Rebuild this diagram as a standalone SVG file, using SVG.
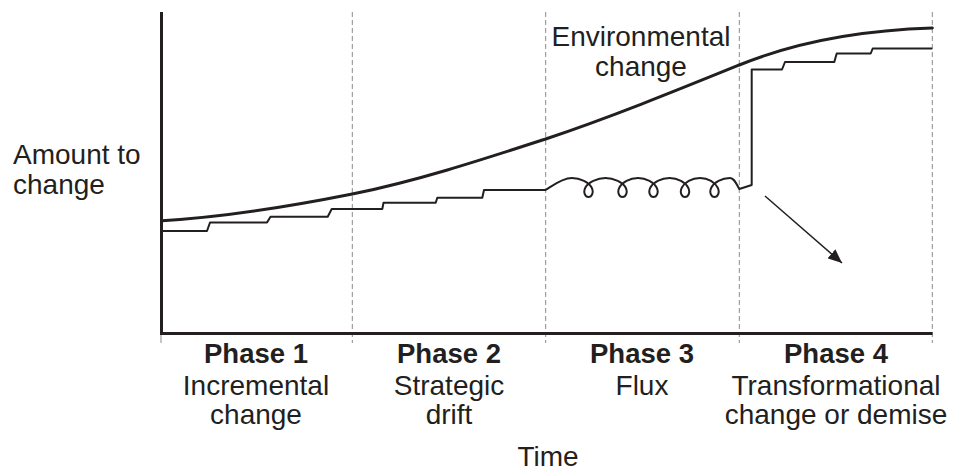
<svg xmlns="http://www.w3.org/2000/svg" width="960" height="473" viewBox="0 0 960 473">
<style>
.txt{font-family:"Liberation Sans",Arial,sans-serif;font-size:28px;fill:#231f20}
.bold{font-weight:bold;font-size:27.5px}
.axis{stroke:#231f20;stroke-width:3;fill:none}
.grid{stroke:#8a8a8a;stroke-width:1;stroke-dasharray:5 3;fill:none}
.env{stroke:#231f20;stroke-width:3;fill:none;stroke-linecap:round}
.org{stroke:#231f20;stroke-width:2;fill:none;stroke-linejoin:round}
.arr{stroke:#231f20;stroke-width:1.5;fill:none}
</style>
<defs>
<marker id="ah" markerUnits="userSpaceOnUse" markerWidth="16" markerHeight="12" refX="14" refY="6" orient="auto">
<path d="M0,0 L14,6 L0,12 Z" fill="#231f20"/>
</marker>
</defs>
<rect width="960" height="473" fill="#ffffff"/>
<g id="axes">
<line class="grid" x1="352.3" y1="12" x2="352.3" y2="343"/>
<line class="grid" x1="545.7" y1="12" x2="545.7" y2="343"/>
<line class="grid" x1="739.3" y1="12" x2="739.3" y2="343"/>
<line class="grid" x1="932.3" y1="12" x2="932.3" y2="343"/>
<line x1="161" y1="333" x2="161" y2="343" stroke="#8a8a8a" stroke-width="1"/>
<path class="axis" d="M161.5,12 L161.5,333.5 L932.5,333.5"/>
</g>
<g id="connectors">
<path id="environmental-curve" class="env" d="M162,220.7 C224,217.2 288,206.8 352.3,194 C416,181.2 481,160 545.7,139 C610,117.5 674,91.5 739.3,65 C803,39 868,30 932.3,28"/>
<path id="organisation-line" class="org" d="M162,231 L207,231 L210,222.5 L267,222.5 L270.5,216.7 L327.7,216.7 L331.7,209 L382.3,209 L383.5,202.7 L435.7,202.7 L437.3,197.7 L482.3,197.7 L484,190 L545.5,190 C552,186 562,178 572,178 C580.4,178 589,182.5 591.6,187.5 C594.25,192.5 591.64,197 588.5,197 C585.36,197 582.75,192.5 585.4,187.5 C588,182.5 597.1,178 605.5,178 C613.9,178 623,182.5 625.6,187.5 C628.25,192.5 625.64,197 622.5,197 C619.36,197 616.75,192.5 619.4,187.5 C622,182.5 629.6,178 638,178 C646.4,178 654,182.5 656.6,187.5 C659.25,192.5 656.64,197 653.5,197 C650.36,197 647.75,192.5 650.4,187.5 C653,182.5 661.1,178 669.5,178 C677.9,178 685.5,182.5 688.1,187.5 C690.75,192.5 688.14,197 685,197 C681.86,197 679.25,192.5 681.9,187.5 C684.5,182.5 691.6,178 700,178 C708.4,178 715,182.5 717.6,187.5 C720.25,192.5 717.64,197 714.5,197 C711.36,197 708.75,192.5 711.4,187.5 C714,182.5 721.6,178 730,178 C734,178 736,183 739.3,189 L751.7,185 L751.7,69.5 L782,69.5 L785,62 L834.3,62 L836.7,53.5 L870.7,53.5 L872.7,48.5 L932.3,48.5"/>
<line id="demise-arrow" class="arr" x1="765" y1="196" x2="842" y2="263" marker-end="url(#ah)"/>
</g>
<g id="y-label">
<text class="txt" x="13" y="164">Amount to</text>
<text class="txt" x="13" y="194">change</text>
</g>
<g id="env-label">
<text class="txt" x="641" y="46" text-anchor="middle">Environmental</text>
<text class="txt" x="641" y="76" text-anchor="middle">change</text>
</g>
<g id="phase1" text-anchor="middle">
<text class="txt bold" x="256" y="363">Phase 1</text>
<text class="txt" x="256" y="395">Incremental</text>
<text class="txt" x="256" y="424">change</text>
</g>
<g id="phase2" text-anchor="middle">
<text class="txt bold" x="449" y="363">Phase 2</text>
<text class="txt" x="449" y="395">Strategic</text>
<text class="txt" x="449" y="424">drift</text>
</g>
<g id="phase3" text-anchor="middle">
<text class="txt bold" x="642" y="363">Phase 3</text>
<text class="txt" x="642" y="395">Flux</text>
</g>
<g id="phase4" text-anchor="middle">
<text class="txt bold" x="836" y="363">Phase 4</text>
<text class="txt" x="836" y="395">Transformational</text>
<text class="txt" x="836" y="424">change or demise</text>
</g>
<g id="x-label">
<text class="txt" x="548" y="466" text-anchor="middle">Time</text>
</g>
</svg>
